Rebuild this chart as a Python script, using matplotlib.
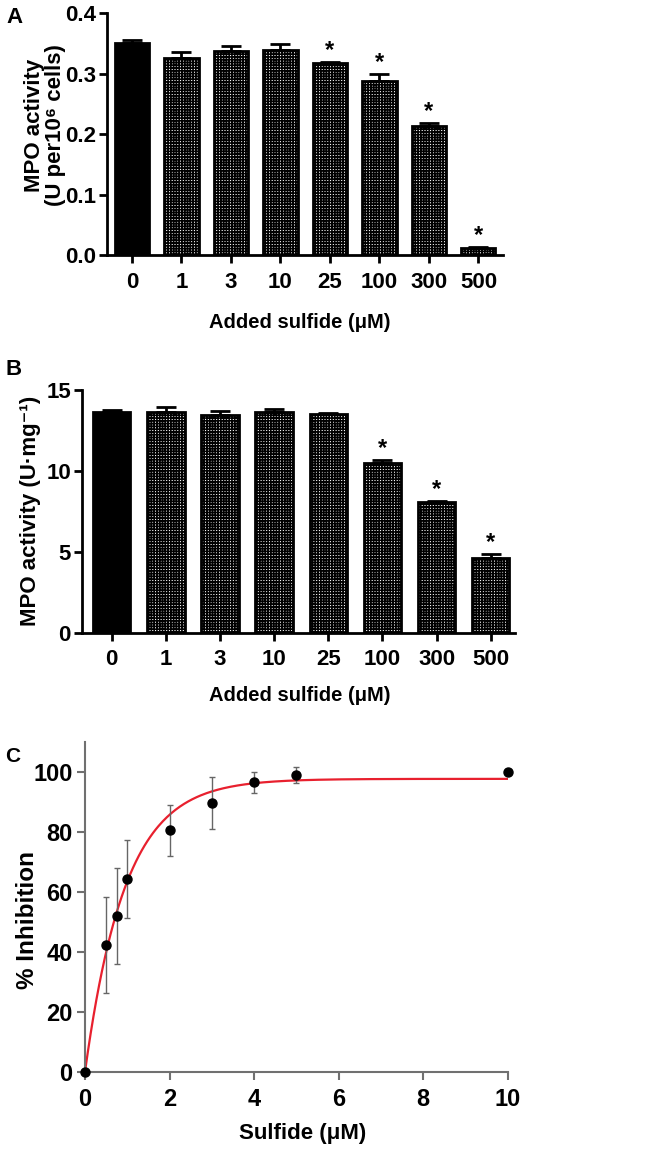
import numpy as np
import matplotlib
matplotlib.use("Agg")
import matplotlib.pyplot as plt

plt.rcParams['font.family'] = ['Liberation Sans', 'DejaVu Sans']
plt.rcParams['font.weight'] = 'bold'
plt.rcParams['axes.labelweight'] = 'bold'
plt.rcParams['hatch.linewidth'] = 1.2

# datos del panel A y B
dosis = ['0', '1', '3', '10', '25', '100', '300', '500']
mpo_celulas = [0.351, 0.325, 0.338, 0.339, 0.317, 0.287, 0.213, 0.012]
mpo_celulas_err = [0.004, 0.010, 0.008, 0.009, 0.002, 0.012, 0.005, 0.001]
sig_a = [False, False, False, False, True, True, True, True]

mpo_mg = [13.62, 13.62, 13.45, 13.66, 13.50, 10.47, 8.10, 4.59]
mpo_mg_err = [0.14, 0.35, 0.27, 0.19, 0.05, 0.20, 0.05, 0.25]
sig_b = [False, False, False, False, False, True, True, True]

# datos del panel C
sulfuro = [0, 0.5, 0.75, 1, 2, 3, 4, 5, 10]
inhibicion = [0, 42.1, 51.9, 64.1, 80.4, 89.6, 96.5, 98.9, 100]
inhibicion_err = [0, 16, 16, 13, 8.5, 8.7, 3.5, 2.6, 0.8]
# parametros del ajuste exponencial
plateau = 97.6
k_ajuste = 1.05

fig = plt.figure(figsize=(6.7, 11.52), dpi=100)

def barras(ax, valores, errores, sig, ymax, yticks, ytl):
    x = np.arange(len(valores))
    colores = ['black'] + ['white'] * (len(valores) - 1)
    hatches = [''] + ['++++++'] * (len(valores) - 1)
    for i in range(len(valores)):
        ax.bar(x[i], valores[i], width=0.69, color=colores[i], edgecolor='black',
               linewidth=2, hatch=hatches[i], zorder=2)
    ax.errorbar(x, valores, yerr=[np.zeros(len(errores)), errores], fmt='none',
                ecolor='black', elinewidth=2, capsize=7, capthick=2, zorder=3)
    for i in range(len(valores)):
        if sig[i]:
            ax.annotate('*', (x[i], valores[i] + errores[i]), xytext=(0, 0),
                        textcoords='offset points', ha='center', va='bottom',
                        fontsize=17, fontweight='bold')
    ax.set_ylim(0, ymax)
    ax.set_yticks(yticks)
    ax.set_yticklabels(ytl)
    ax.set_xticks(x)
    ax.set_xticklabels(dosis)
    for s in ['top', 'right']:
        ax.spines[s].set_visible(False)
    for s in ['left', 'bottom']:
        ax.spines[s].set_linewidth(2)
    ax.tick_params(width=2, length=6, labelsize=16, pad=6)
    ax.tick_params(axis='y', pad=2)
    ax.set_xlabel('Added sulfide (\u03bcM)', fontsize=14.5)
    ax.xaxis.label.set_va('center')

# panel A
axA = fig.add_axes([0.160, 0.7786, 0.591, 0.2101])
barras(axA, mpo_celulas, mpo_celulas_err, sig_a, 0.4,
       [0, 0.1, 0.2, 0.3, 0.4], ['0.0', '0.1', '0.2', '0.3', '0.4'])
axA.set_xlim(-0.5, 7.5)
axA.set_ylabel('MPO activity\n(U per10\u2076 cells)', fontsize=16, linespacing=1.0)
axA.yaxis.label.set_va('center')
axA.yaxis.set_label_coords(-0.158, 0.537)
axA.xaxis.set_label_coords(0.487, -0.277)
fig.text(0.010, 0.985, 'A', fontsize=16, fontweight='bold', va='center')

# panel B
axB = fig.add_axes([0.1224, 0.4508, 0.6463, 0.2107])
barras(axB, mpo_mg, mpo_mg_err, sig_b, 15,
       [0, 5, 10, 15], ['0', '5', '10', '15'])
axB.set_xlim(-0.55, 7.45)
axB.set_ylabel('MPO activity (U\u00b7mg\u207b\u00b9)', fontsize=16)
axB.yaxis.label.set_va('center')
axB.yaxis.set_label_coords(-0.12, 0.5)
axB.xaxis.set_label_coords(0.503, -0.257)
fig.text(0.008, 0.679, 'B', fontsize=16, fontweight='bold', va='center')

# panel C
axC = fig.add_axes([0.1269, 0.0697, 0.631, 0.2865])
xs = np.linspace(0, 10, 300)
axC.plot(xs, plateau * (1 - np.exp(-k_ajuste * xs)), color='#e8202e', lw=1.6, zorder=2)
axC.errorbar(sulfuro, inhibicion, yerr=inhibicion_err, fmt='o', color='black',
             ms=6.5, ecolor='#666666', elinewidth=1, capsize=2.5, capthick=1,
             zorder=3, clip_on=False)
axC.set_xlim(0, 10)
axC.set_ylim(0, 110)
axC.set_xticks([0, 2, 4, 6, 8, 10])
axC.set_yticks([0, 20, 40, 60, 80, 100])
for s in ['top', 'right']:
    axC.spines[s].set_visible(False)
for s in ['left', 'bottom']:
    axC.spines[s].set_linewidth(1.5)
    axC.spines[s].set_color('#707070')
axC.tick_params(width=1.5, length=6, color='#707070', labelsize=17, pad=6)
axC.tick_params(axis='y', pad=3)
axC.set_xlabel('Sulfide (\u03bcM)', fontsize=16)
axC.set_ylabel('% Inhibition', fontsize=17.5)
axC.xaxis.label.set_va('center')
axC.yaxis.label.set_va('center')
axC.xaxis.set_label_coords(0.515, -0.186)
axC.yaxis.set_label_coords(-0.135, 0.46)
fig.text(0.008, 0.343, 'C', fontsize=15, fontweight='bold', va='center')

fig.savefig('out.png', dpi=100)
